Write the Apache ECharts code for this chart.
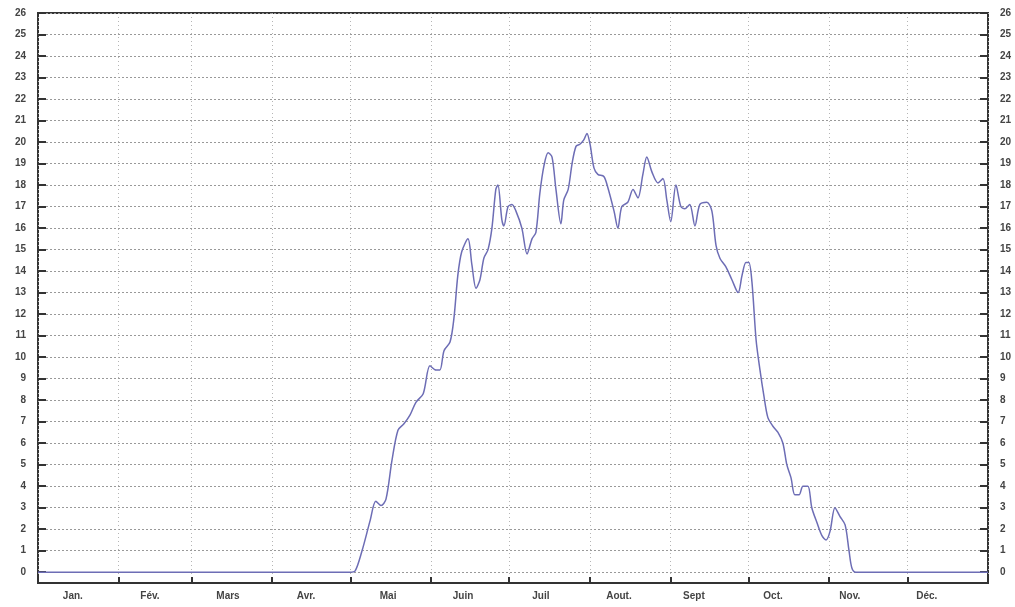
<!DOCTYPE html>
<html>
<head>
<meta charset="utf-8">
<script src="https://cdn.jsdelivr.net/npm/echarts@6/dist/echarts.min.js"></script>
<style>
html,body{margin:0;padding:0;background:#fff;}
#chart{width:1015px;height:607px;}
</style>
</head>
<body>
<div id="chart"></div>
<script>
// Month names (x categories), days per month, and label positions (day of year)
const monthNames = ['Jan.', 'Fév.', 'Mars', 'Avr.', 'Mai', 'Juin', 'Juil', 'Aout.', 'Sept', 'Oct.', 'Nov.', 'Déc.'];
const monthDays = [31, 28, 31, 30, 31, 30, 31, 31, 30, 31, 30, 31];
const labelDays = [13.4, 43.0, 73.0, 103.0, 134.5, 163.3, 193.2, 223.2, 252.0, 282.4, 311.9, 341.5];
// Y tick labels
const yTicks = [0,1,2,3,4,5,6,7,8,9,10,11,12,13,14,15,16,17,18,19,20,21,22,23,24,25,26];

// Series: day of year and value
const days = [0, 119.9, 121.8, 124.5, 127.6, 129.8, 131.8, 133.7, 136.0, 138.3, 140.6, 142.9, 145.2, 148.0, 150.6, 152.9, 154.4, 156.0, 158.3, 159.8, 161.3, 162.8, 165.2, 166.7, 168.3, 169.8, 171.3, 172.9, 174.4, 175.9, 176.7, 178.2, 179.0, 180.6, 182.1, 183.6, 185.9, 187.9, 189.8, 191.3, 192.8, 194.4, 196.0, 197.5, 199.0, 200.9, 202.0, 203.7, 205.2, 206.7, 208.2, 209.7, 210.9, 212.1, 213.6, 215.1, 217.4, 218.9, 221.3, 222.8, 224.3, 226.6, 228.6, 230.5, 232.4, 233.9, 235.9, 238.2, 240.1, 241.6, 243.1, 245.1, 247.0, 248.5, 250.4, 252.4, 254.3, 257.0, 258.9, 260.5, 262.0, 264.3, 266.6, 269.0, 270.5, 272.0, 273.1, 274.3, 275.9, 277.4, 278.9, 280.4, 282.3, 284.3, 286.2, 287.7, 289.3, 290.8, 292.4, 293.9, 295.8, 297.3, 299.3, 301.2, 302.8, 304.3, 306.2, 308.1, 310.1, 311.6, 312.7, 314.2, 365];
const values = [0, 0, 0.05, 1.0, 2.4, 3.3, 3.1, 3.4, 5.2, 6.6, 6.9, 7.3, 7.9, 8.3, 9.6, 9.4, 9.4, 10.3, 10.7, 11.8, 13.8, 14.9, 15.5, 14.3, 13.2, 13.6, 14.6, 15.0, 16.0, 17.8, 18.0, 16.4, 16.1, 17.0, 17.1, 16.8, 16.0, 14.8, 15.5, 15.8, 17.6, 18.9, 19.5, 19.3, 17.8, 16.2, 17.3, 17.8, 19.0, 19.8, 19.9, 20.1, 20.4, 19.9, 18.8, 18.5, 18.4, 17.9, 16.8, 16.0, 17.0, 17.2, 17.8, 17.4, 18.5, 19.3, 18.6, 18.1, 18.3, 17.3, 16.3, 18.0, 17.0, 16.9, 17.1, 16.1, 17.1, 17.2, 16.8, 15.2, 14.6, 14.2, 13.6, 13.0, 13.8, 14.4, 14.4, 13.5, 10.8, 9.4, 8.2, 7.2, 6.8, 6.5, 6.0, 5.0, 4.4, 3.6, 3.6, 4.0, 4.0, 3.0, 2.3, 1.7, 1.5, 1.9, 3.0, 2.6, 2.2, 1.0, 0.2, 0, 0];

const bounds = [0];
monthDays.forEach(d => bounds.push(bounds[bounds.length - 1] + d));
const seriesData = days.map((d, i) => [d, values[i]]);

function yAxisDef(pos) {
  return {
    type: 'value', min: -0.5, max: 26, position: pos,
    axisLine: { show: false, onZero: false },
    axisTick: { show: true, inside: true, length: 8, customValues: yTicks, lineStyle: { color: '#333', width: 2 } },
    axisLabel: {
      customValues: yTicks, fontSize: 10, fontWeight: 'bold', color: '#444', fontFamily: 'Liberation Sans', margin: 9,
      padding: pos === 'left' ? [0, 3, 0, 0] : [0, 0, 0, 3]
    },
    splitLine: { show: pos === 'left', lineStyle: { color: '#999', type: [2, 2], width: 1 } }
  };
}

const chart = echarts.init(document.getElementById('chart'));
chart.setOption({
  animation: false,
  backgroundColor: '#fff',
  grid: { left: 38, right: 27, top: 13, bottom: 24, show: true, borderColor: '#333', borderWidth: 2, backgroundColor: 'transparent' },
  xAxis: {
    type: 'value', min: 0, max: 365,
    axisLine: { show: false, onZero: false },
    axisTick: { show: true, inside: true, length: 6, customValues: bounds, lineStyle: { color: '#333', width: 2 } },
    axisLabel: {
      customValues: labelDays, fontSize: 10, fontWeight: 'bold', color: '#444', fontFamily: 'Liberation Sans', margin: 8,
      formatter: function (v) {
        for (let i = 0; i < labelDays.length; i++) if (Math.abs(labelDays[i] - v) < 0.01) return monthNames[i];
        return '';
      }
    },
    splitLine: { show: true, lineStyle: { color: '#b5b5b5', type: [1, 3], width: 1 } }
  },
  yAxis: [yAxisDef('left'), yAxisDef('right')],
  series: [{
    type: 'line',
    data: seriesData,
    showSymbol: false,
    smooth: 0.3,
    lineStyle: { color: '#6d6db5', width: 1.5 },
    z: 5
  }]
});
</script>
</body>
</html>
